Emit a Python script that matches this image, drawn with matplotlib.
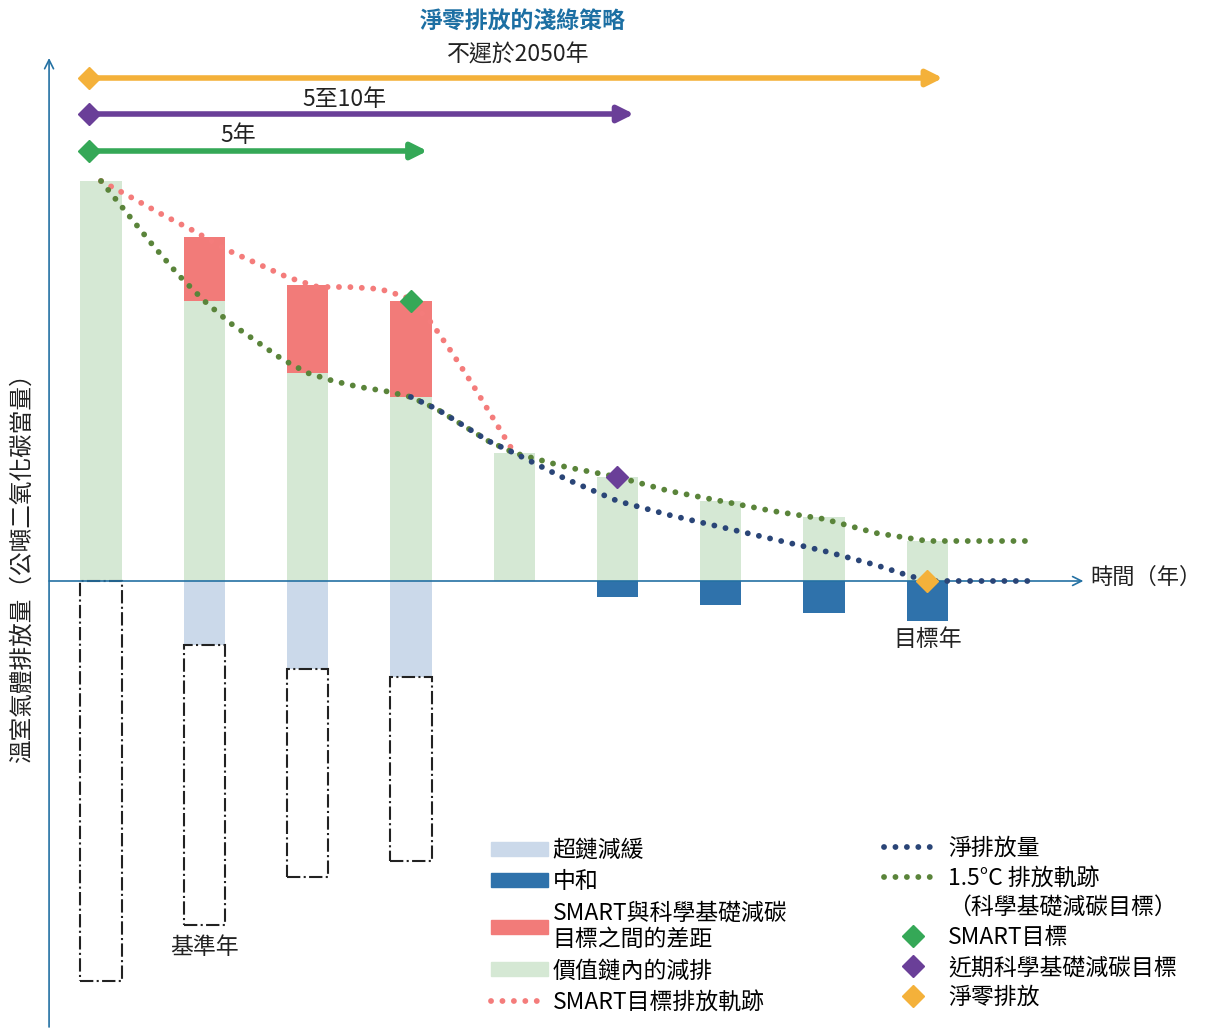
import matplotlib.pyplot as plt
from matplotlib.patches import Patch, Rectangle
from matplotlib.lines import Line2D

plt.rcParams['font.family'] = ['Noto Sans CJK TC', 'DejaVu Sans']

# --- data (emissions, base year = 100) ---
positions = [0, 1, 2, 3, 4, 5, 6, 7, 8]
value_chain = [100, 70, 52, 46, 32, 26, 20, 16, 10]
smart_gap = [0, 16, 22, 24, 0, 0, 0, 0, 0]
beyond_chain = [0, 16, 22, 24, 0, 0, 0, 0, 0]
neutralization = [0, 0, 0, 0, 0, 4, 6, 8, 10]

smart_x = [0, 0.3, 0.6, 0.9, 1.2, 1.5, 1.8, 2.1, 2.4, 2.7, 2.95, 3.2, 3.4, 3.6, 3.8, 4.0]
smart_y = [100, 95.8, 91.5, 87.5, 83, 79.5, 76, 73.5, 73.5, 73, 71, 64.5, 57, 49, 40.5, 32]

sbti_x = [0, 0.25, 0.5, 0.75, 1.0, 1.25, 1.5, 1.75, 2.0, 2.25, 2.5, 2.75, 3.0, 3.25, 3.5,
          3.75, 4.0, 4.5, 5.0, 5.5, 6.0, 6.5, 7.0, 7.5, 8.0, 9.0]
sbti_y = [100, 92, 84, 76.5, 70, 64.5, 60, 55.5, 52, 50, 48.5, 47.5, 46, 43, 39,
          35, 32, 28.5, 26, 22.5, 20, 17.5, 15.5, 12, 10, 10]

net_x = [3.0, 3.25, 3.5, 3.75, 4.0, 4.5, 5.0, 5.5, 6.0, 6.5, 7.0, 7.5, 7.8, 8.0, 9.0]
net_y = [46, 43, 39, 35, 32, 25.5, 20, 16.5, 13.5, 10.5, 7.5, 4, 1.5, 0, 0]

# milestones: (year position, emission) and horizon arrow end
smart_target = (3, 70)
near_term_target = (5, 26)
net_zero_target = (8, 0)
horizon_ends = [8.15, 5.16, 3.16]
horizon_labels = ['不遲於2050年', '5至10年', '5年']

# colours
c_green_bar = '#D5E8D4'
c_light_blue = '#CBD9EA'
c_dark_blue = '#2F72AB'
c_gap = '#F27B79'
c_smart_line = '#F47C7B'
c_sbti_line = '#5A843A'
c_net_line = '#2A4577'
c_orange = '#F4B13A'
c_purple = '#6A3F98'
c_green = '#35A857'
c_axis = '#2471A3'
c_text = '#222222'

fig = plt.figure(figsize=(12.07, 10.28), dpi=100)
ax = fig.add_axes([0, 0, 1, 1])
ax.set_xlim(-0.978, 10.707)
ax.set_ylim(-111.75, 145.25)
ax.axis('off')

w = 0.4
tops = [v + g for v, g in zip(value_chain, smart_gap)]

# --- bars ---
ax.bar(positions, value_chain, width=w, color=c_green_bar, zorder=1)
ax.bar(positions, smart_gap, bottom=value_chain, width=w, color=c_gap, zorder=1)
ax.bar(positions, [-b for b in beyond_chain], width=w, color=c_light_blue, zorder=1)
ax.bar(positions, [-n for n in neutralization], width=w, color=c_dark_blue, zorder=1)

# dashed boxes (base year emissions mirrored below the axis)
for p, t, b in zip(positions, tops, beyond_chain):
    if p > 3:
        continue
    ax.add_patch(Rectangle((p - w / 2, -t), w, t - b, fill=False, ec=c_text,
                           lw=1.5, ls='-.', zorder=2))

# --- trajectories ---
dot = dict(lw=4.2, ls=(0, (0.01, 1.95)), dash_capstyle='round')
ax.plot(smart_x, smart_y, color=c_smart_line, zorder=3, **dot)
ax.plot(sbti_x, sbti_y, color=c_sbti_line, zorder=4, **dot)
ax.plot(net_x, net_y, color=c_net_line, zorder=5, **dot)

# --- axes ---
ax.annotate('', xy=(9.51, 0), xytext=(-0.503, 0),
            arrowprops=dict(arrowstyle='->', color=c_axis, lw=1.2, mutation_scale=16,
                            shrinkA=0, shrinkB=0), zorder=2)
ax.annotate('', xy=(-0.503, 130.75), xytext=(-0.503, -111.5),
            arrowprops=dict(arrowstyle='->', color=c_axis, lw=1.2, mutation_scale=16,
                            shrinkA=0, shrinkB=0), zorder=2)

# --- milestone diamonds ---
ax.plot(*smart_target, 'D', color=c_green, ms=11, zorder=6)
ax.plot(*near_term_target, 'D', color=c_purple, ms=11, zorder=6)
ax.plot(*net_zero_target, 'D', color=c_orange, ms=11, zorder=6)

# --- horizon arrows ---
arrow_y = [125.75, 116.75, 107.5]
label_x = [4.04, 2.36, 1.33]
label_y = [131.5, 120.5, 111.5]
for end, yy, col, lab, lx, ly in zip(horizon_ends, arrow_y, [c_orange, c_purple, c_green],
                                     horizon_labels, label_x, label_y):
    ax.annotate('', xy=(end, yy), xytext=(-0.116, yy),
                arrowprops=dict(arrowstyle='-|>', color=col, lw=4, mutation_scale=24,
                                shrinkA=0, shrinkB=0))
    ax.plot(-0.116, yy, 'D', color=col, ms=11)
    ax.text(lx, ly, lab, ha='center', va='center', fontsize=16.5, color=c_text)

ax.text(4.08, 140, '淨零排放的淺綠策略', ha='center', va='center', fontsize=16.5,
        color='#1C6FA3', fontweight='semibold')

# --- labels ---
ax.text(-0.76, 4.75, '溫室氣體排放量（公噸二氧化碳當量）', rotation=90, ha='center',
        va='center', fontsize=17, color=c_text)
ax.text(9.58, 0.8, '時間（年）', ha='left', va='center', fontsize=16, color=c_text)
ax.text(8.0, -14.5, '目標年', ha='center', va='center', fontsize=16.5, color=c_text)
ax.text(1.0, -91.5, '基準年', ha='center', va='center', fontsize=16.5, color=c_text)

# --- legends ---
left_handles = [
    Patch(color=c_light_blue),
    Patch(color=c_dark_blue),
    Patch(color=c_gap),
    Patch(color=c_green_bar),
    Line2D([], [], color=c_smart_line, **dot),
]
left_labels = ['超鏈減緩', '中和', 'SMART與科學基礎減碳\n目標之間的差距', '價值鏈內的減排',
               'SMART目標排放軌跡']
leg1 = ax.legend(left_handles, left_labels, loc='upper left', bbox_to_anchor=(0.399, 0.193),
                 frameon=False, fontsize=16.5, handlelength=2.5, handleheight=0.55,
                 handletextpad=0.2, labelspacing=0.36, borderaxespad=0)
ax.add_artist(leg1)

right_handles = [
    Line2D([], [], color=c_net_line, **dot),
    Line2D([], [], color=c_sbti_line, **dot),
    Line2D([], [], ls='none'),
    Line2D([], [], ls='none', marker='D', color=c_green, ms=11),
    Line2D([], [], ls='none', marker='D', color=c_purple, ms=11),
    Line2D([], [], ls='none', marker='D', color=c_orange, ms=11),
]
right_labels = ['淨排放量', '1.5°C 排放軌跡', '（科學基礎減碳目標）', 'SMART目標',
                '近期科學基礎減碳目標', '淨零排放']
ax.legend(right_handles, right_labels, loc='upper left', bbox_to_anchor=(0.7247, 0.195),
          frameon=False, fontsize=16.5, handlelength=2.5, handletextpad=0.3,
          labelspacing=0.3, borderaxespad=0)

fig.savefig('out.png', dpi=100)
